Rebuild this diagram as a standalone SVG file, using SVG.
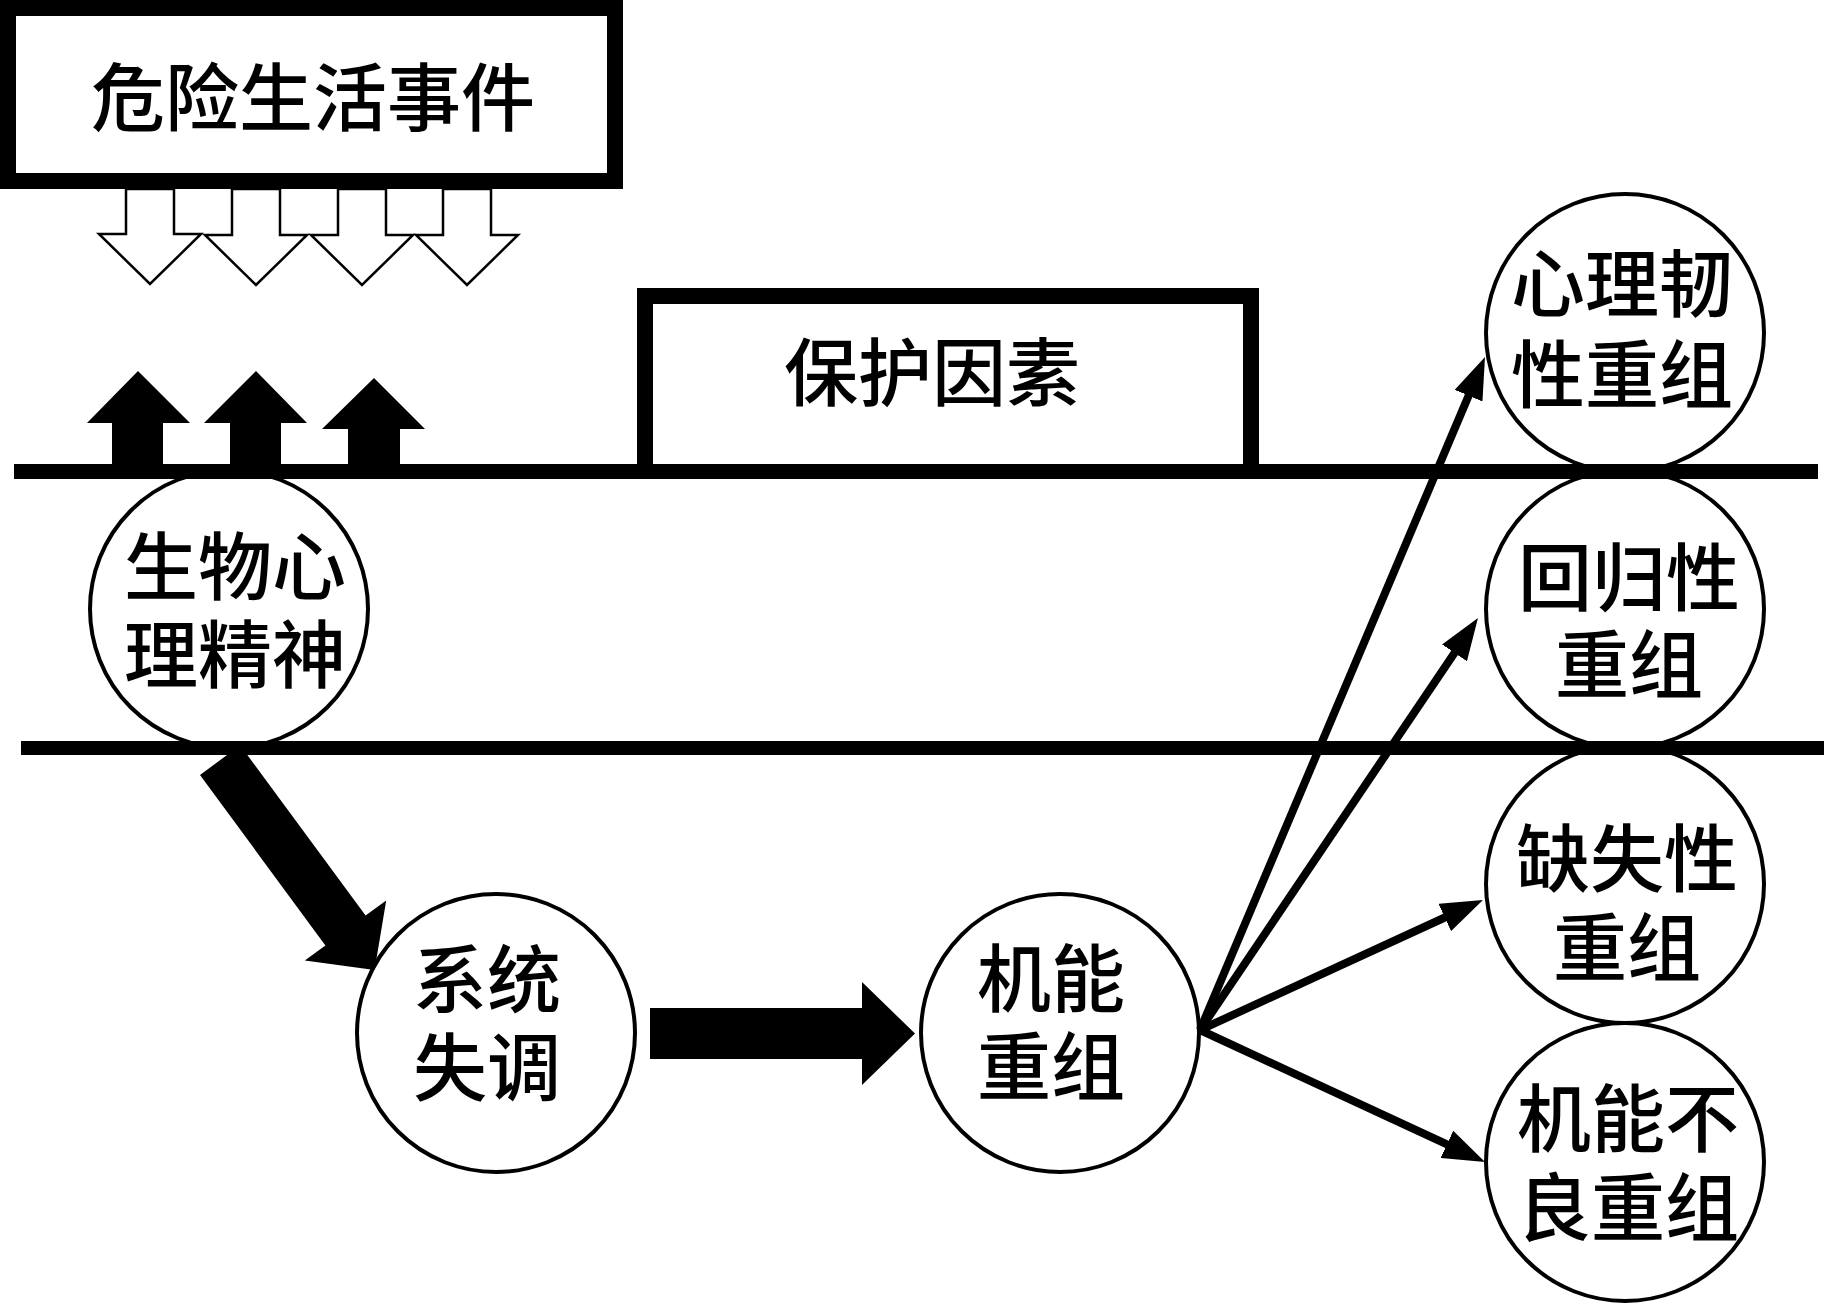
<svg xmlns="http://www.w3.org/2000/svg" width="1832" height="1303" viewBox="0 0 1832 1303">
<defs>
<style>
.t{font-family:"Noto Sans CJK SC","Noto Sans CJK TC",sans-serif;font-size:74px;font-weight:500;fill:#000;text-anchor:middle}
.node{fill:#fff;stroke:#000;stroke-width:4}
.box{fill:#fff;stroke:#000;stroke-width:16}
.band{stroke:#000;fill:none}
.hollow{fill:#fff;stroke:#000;stroke-width:2.5;stroke-linejoin:miter}
.solid{fill:#000;stroke:none}
.fan{stroke:#000;stroke-width:8;fill:none}
</style>
<marker id="ah" viewBox="0 0 42 30" refX="12" refY="15" markerWidth="42" markerHeight="30" markerUnits="userSpaceOnUse" orient="auto">
<path d="M0,0 L42,15 L0,30 z" fill="#000"/>
</marker>
</defs>
<rect width="1832" height="1303" fill="#fff"/>

<g id="risk-events">
<rect class="box" x="8" y="8" width="607" height="173"/>
<text class="t" x="313" y="125">危险生活事件</text>
</g>

<g id="risk-arrows">
<path class="hollow" d="M126,189 V234 H99 L150,284 L201,234 H174 V189 Z"/>
<path class="hollow" d="M232,189 V235 H205 L256,285 L307,235 H280 V189 Z"/>
<path class="hollow" d="M338,189 V235 H311 L362,285 L413,235 H386 V189 Z"/>
<path class="hollow" d="M443,189 V235 H416 L467,285 L518,235 H491 V189 Z"/>
</g>

<g id="response-arrows">
<path class="solid" d="M112,472 V423 H87 L138,371 L190,423 H163 V472 Z"/>
<path class="solid" d="M230,472 V423 H204 L256,371 L307,423 H281 V472 Z"/>
<path class="solid" d="M348,472 V429 H322 L374,378 L425,429 H400 V472 Z"/>
</g>

<g id="protective-factors">
<path class="box" d="M645,472 V296 H1251 V472"/>
<text class="t" x="932" y="400">保护因素</text>
</g>

<g id="biopsychospiritual">
<circle class="node" cx="229" cy="609" r="139"/>
<text class="t"><tspan x="235" y="594">生物心</tspan><tspan x="235" y="682">理精神</tspan></text>
</g>

<g id="dysregulation">
<circle class="node" cx="496" cy="1033" r="139"/>
<text class="t"><tspan x="487" y="1007">系统</tspan><tspan x="487" y="1095">失调</tspan></text>
</g>

<g id="reintegration">
<circle class="node" cx="1060" cy="1033" r="139"/>
<text class="t"><tspan x="1051" y="1006">机能</tspan><tspan x="1051" y="1094">重组</tspan></text>
</g>

<g id="resilient">
<circle class="node" cx="1625" cy="333" r="139"/>
<text class="t"><tspan x="1622" y="311">心理韧</tspan><tspan x="1622" y="402">性重组</tspan></text>
</g>

<g id="homeostatic">
<circle class="node" cx="1625" cy="609" r="139"/>
<text class="t"><tspan x="1629" y="605">回归性</tspan><tspan x="1629" y="692">重组</tspan></text>
</g>

<g id="loss">
<circle class="node" cx="1625" cy="884" r="139"/>
<text class="t"><tspan x="1627" y="886">缺失性</tspan><tspan x="1627" y="975">重组</tspan></text>
</g>

<g id="dysfunctional">
<circle class="node" cx="1625" cy="1162" r="139"/>
<text class="t"><tspan x="1628" y="1146">机能不</tspan><tspan x="1628" y="1235">良重组</tspan></text>
</g>

<g id="bands">
<line class="band" x1="14" y1="471.5" x2="1818" y2="471.5" stroke-width="15"/>
<line class="band" x1="21" y1="748" x2="1824" y2="748" stroke-width="14"/>
</g>

<g id="connectors">
<polygon class="solid" points="240.2,745.3 365.6,915.6 386.2,900.5 374.6,970 304.8,960.5 325.4,945.4 200,775"/>
<polygon class="solid" points="650,1008 862,1008 862,982 915,1033.5 862,1085 862,1059 650,1059"/>
<line class="fan" x1="1200" y1="1030" x2="1473.3" y2="384.6" marker-end="url(#ah)"/>
<line class="fan" x1="1200" y1="1030" x2="1461.2" y2="642.9" marker-end="url(#ah)"/>
<line class="fan" x1="1200" y1="1030" x2="1455.7" y2="912.5" marker-end="url(#ah)"/>
<line class="fan" x1="1200" y1="1030" x2="1457.8" y2="1149.4" marker-end="url(#ah)"/>
</g>
</svg>
